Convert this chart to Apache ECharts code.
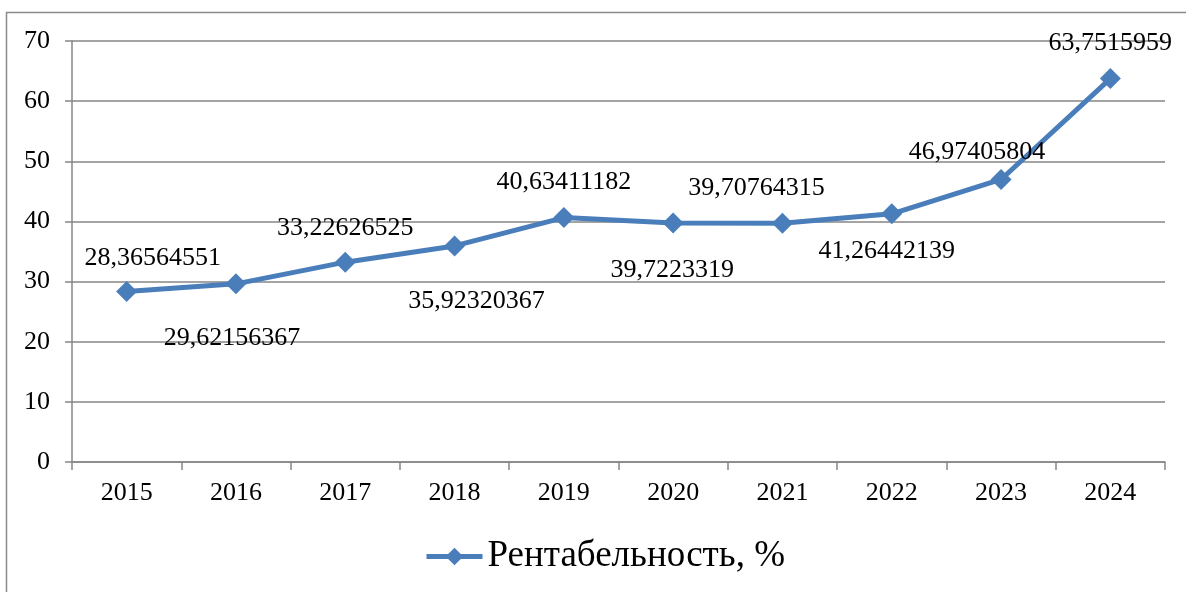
<!DOCTYPE html>
<html>
<head>
<meta charset="utf-8">
<script src="https://cdn.jsdelivr.net/npm/echarts@6/dist/echarts.min.js"></script>
<style>
html,body{margin:0;padding:0;background:#fff;}
#c{width:1186px;height:592px;}
</style>
</head>
<body>
<div id="c"></div>
<script>
const categories = ['2015','2016','2017','2018','2019','2020','2021','2022','2023','2024'];
const seriesName = 'Рентабельность, %';
const values = [28.36564551, 29.62156367, 33.22626525, 35.92320367, 40.63411182, 39.7223319, 39.70764315, 41.26442139, 46.97405804, 63.7515959];
const labelOffsets = [[26,-33],[-4,54],[0,-34],[22,55],[0,-35],[-1,47],[-26,-35],[-5,37],[-24,-27],[0,-35]];

const FONT = "'Liberation Serif', 'Times New Roman', serif";
const GRAY = '#868686';
const BLUE = '#4A7EBB';

const chart = echarts.init(document.getElementById('c'), null, {renderer:'canvas'});
chart.setOption({
  animation: false,
  backgroundColor: '#fff',
  textStyle: {fontFamily: FONT},
  graphic: [{
    type: 'rect',
    shape: {x: 6.5, y: 12.5, width: 1400, height: 800},
    style: {fill: 'none', stroke: '#8a8a8a', lineWidth: 1.5},
    silent: true
  }],
  grid: {left: 72, right: 21, top: 41, bottom: 130, containLabel: false},
  legend: {
    left: 419, top: 533,
    itemWidth: 56, itemHeight: 22,
    itemGap: 10,
    lineStyle: {width: 5, color: BLUE},
    textStyle: {fontFamily: FONT, fontSize: 37, color: '#000'},
    data: [seriesName]
  },
  xAxis: {
    type: 'category',
    data: categories,
    boundaryGap: true,
    axisLine: {lineStyle: {color: GRAY, width: 1.5}},
    axisTick: {show: true, length: 8, alignWithLabel: false, lineStyle: {color: GRAY, width: 1.5}},
    axisLabel: {fontFamily: FONT, fontSize: 26, color: '#000', margin: 18}
  },
  yAxis: {
    type: 'value',
    min: 0, max: 70, interval: 10,
    axisLine: {show: true, lineStyle: {color: GRAY, width: 1.5}},
    axisTick: {show: true, length: 7, lineStyle: {color: GRAY, width: 1.5}},
    splitLine: {lineStyle: {color: GRAY, width: 1.5}},
    axisLabel: {fontFamily: FONT, fontSize: 26, color: '#000', margin: 22}
  },
  series: [{
    name: seriesName,
    type: 'line',
    data: values.map((v, i) => ({
      value: v,
      label: {offset: labelOffsets[i]}
    })),
    symbol: 'diamond',
    symbolSize: 21,
    showAllSymbol: true,
    lineStyle: {color: BLUE, width: 5},
    itemStyle: {color: BLUE},
    label: {
      show: true,
      position: 'inside',
      align: 'center',
      verticalAlign: 'middle',
      fontFamily: FONT,
      fontSize: 26,
      color: '#000',
      formatter: p => String(p.value).replace('.', ',')
    }
  }]
});
</script>
</body>
</html>
